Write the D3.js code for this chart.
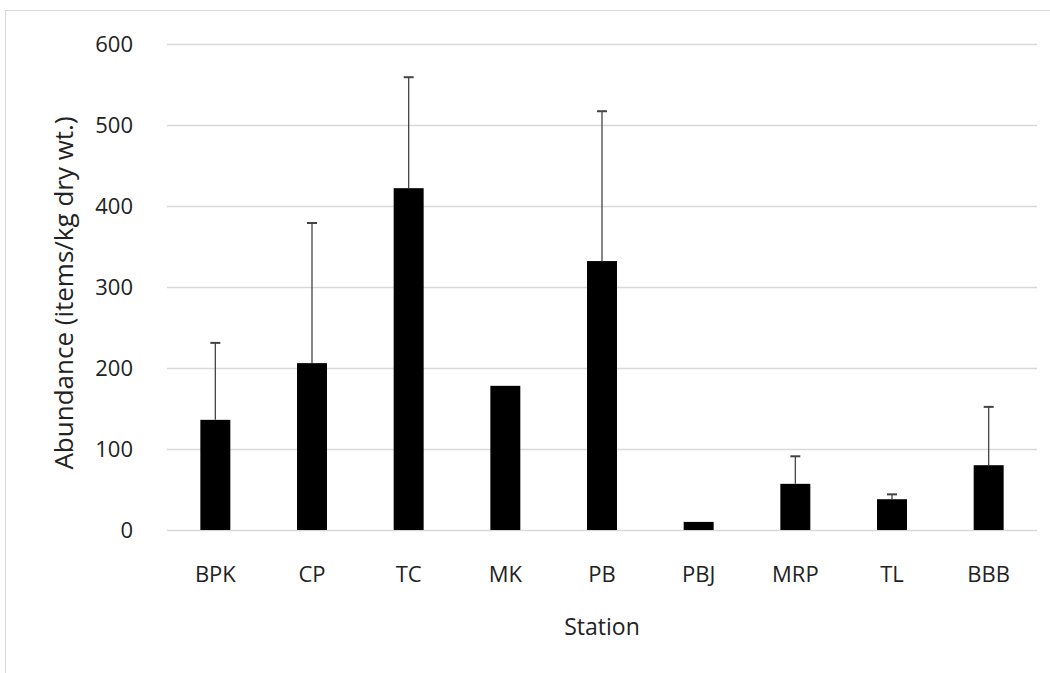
<!DOCTYPE html>
<html><head><meta charset="utf-8">
<script src="https://cdn.jsdelivr.net/npm/d3@7"></script>
<style>body{margin:0;background:#fff}svg{display:block}text{font-family:"Open Sans","Noto Sans",sans-serif;fill:#222}</style>
</head><body><svg id="c" width="1050" height="673"></svg>
<script>
const stations = ["BPK","CP","TC","MK","PB","PBJ","MRP","TL","BBB"];
const means = [136, 206, 422, 178, 332, 10, 57, 38, 80];
const upperErr = [231, 379, 559, null, 517, null, 91, 44, 152];
const yTicks = [0,100,200,300,400,500,600];

const svg = d3.select("#c");
const m = {left:167, right:1037, top:44, bottom:530};
svg.append("rect").attr("x",5.5).attr("y",10.5).attr("width",1060).attr("height",700)
  .attr("fill","none").attr("stroke","#d9d9d9");

const x = d3.scaleBand().domain(stations).range([m.left,m.right]).paddingInner(0.69).paddingOuter(0.345);
const y = d3.scaleLinear().domain([0,600]).range([m.bottom,m.top]);

const gy = svg.append("g").attr("transform",`translate(${m.left},0)`)
  .call(d3.axisLeft(y).tickValues(yTicks).tickSize(-(m.right-m.left)).tickPadding(34));
gy.select(".domain").remove();
gy.selectAll(".tick line").attr("stroke","#d9d9d9").attr("stroke-width",1.5);
gy.selectAll(".tick text").attr("font-size",22).attr("fill","#222");

const gx = svg.append("g").attr("transform",`translate(0,${m.bottom})`)
  .call(d3.axisBottom(x).tickSize(0).tickPadding(36));
gx.select(".domain").remove();
gx.selectAll(".tick text").attr("font-size",22).attr("fill","#222");

const data = stations.map((s,i)=>({s, v:means[i], e:upperErr[i]}));
svg.append("g").selectAll("rect").data(data).join("rect")
  .attr("x",d=>x(d.s)).attr("width",x.bandwidth())
  .attr("y",d=>y(d.v)).attr("height",d=>y(0)-y(d.v)).attr("fill","#000");

const eb = svg.append("g").attr("stroke","#444").attr("stroke-width",1.3);
data.filter(d=>d.e!=null).forEach(d=>{
  const cx = x(d.s)+x.bandwidth()/2;
  eb.append("line").attr("x1",cx).attr("x2",cx).attr("y1",y(d.v)).attr("y2",y(d.e));
  eb.append("line").attr("x1",cx-5).attr("x2",cx+5).attr("y1",y(d.e)).attr("y2",y(d.e)).attr("stroke-width",2);
});

svg.append("text").attr("x",(m.left+m.right)/2).attr("y",635).attr("text-anchor","middle")
  .attr("font-size",23).text("Station");
svg.append("text").attr("transform",`translate(73,293) rotate(-90)`).attr("text-anchor","middle")
  .attr("font-size",26).text("Abundance (items/kg dry wt.)");
</script></body></html>
